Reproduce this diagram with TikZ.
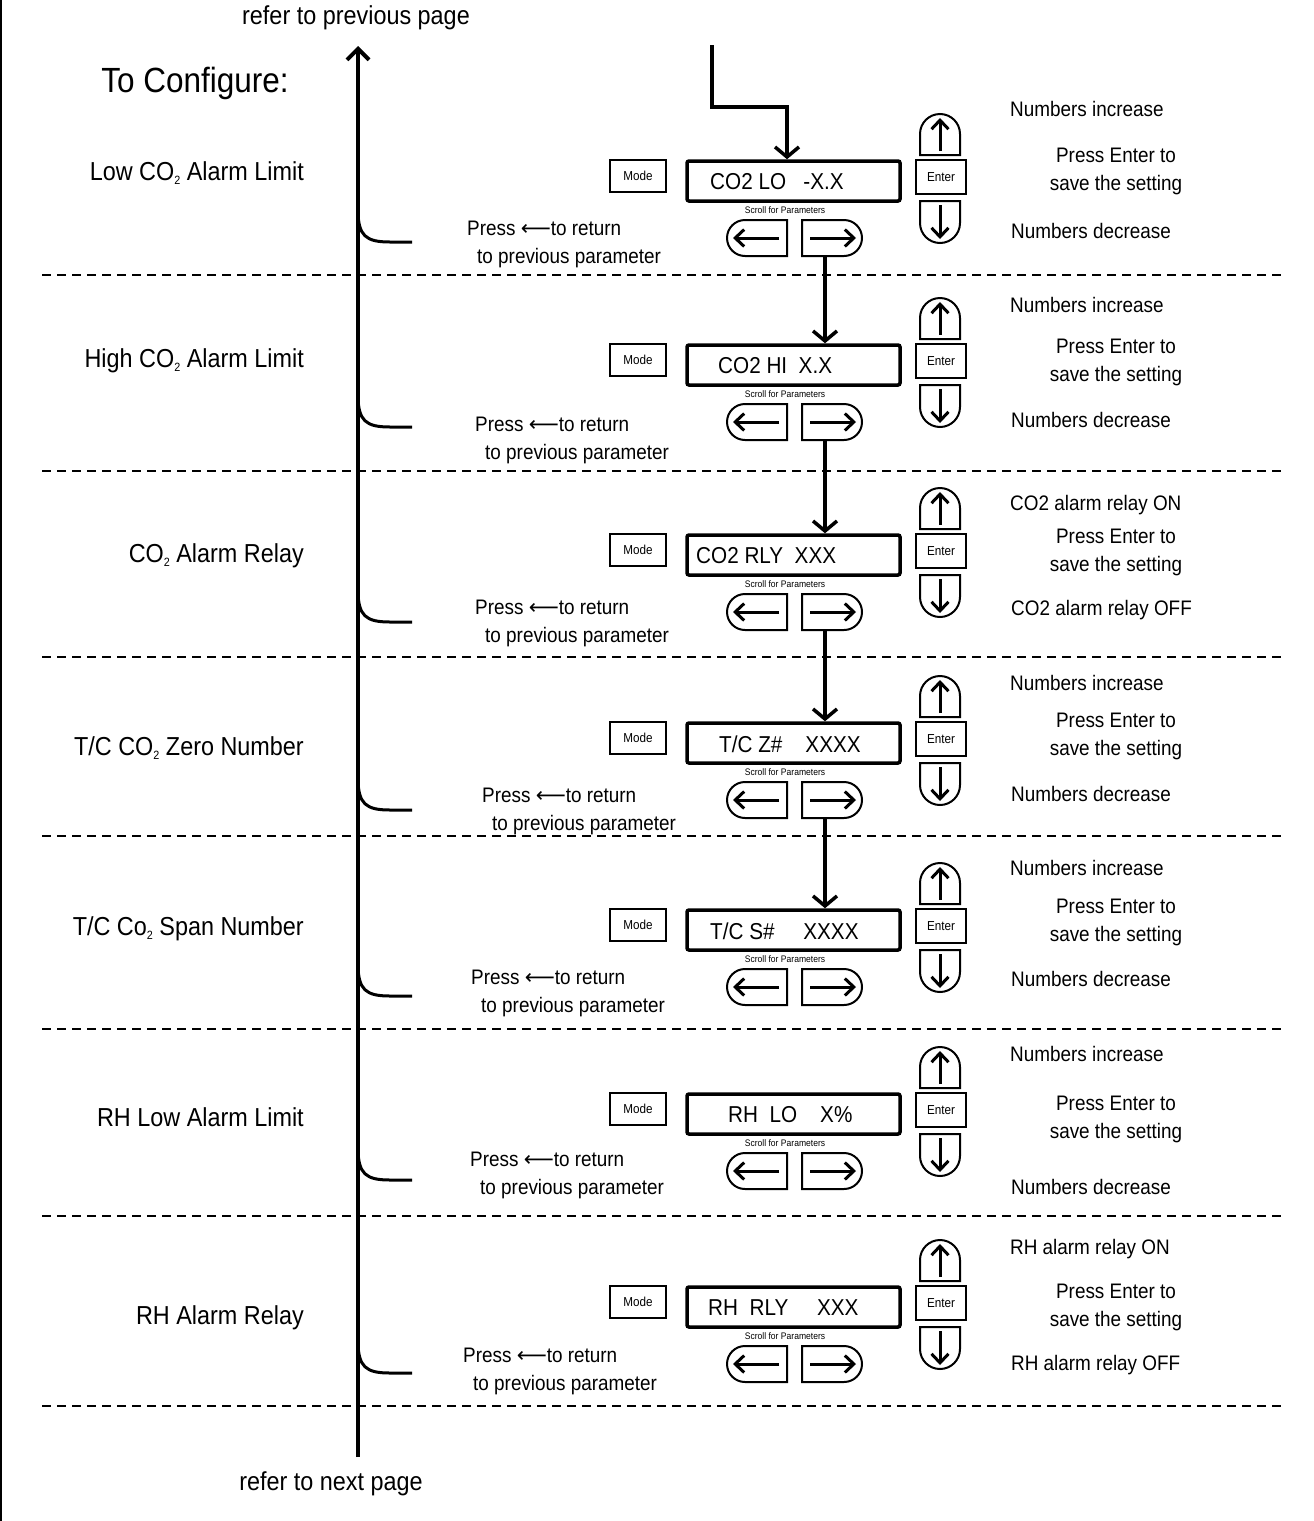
\documentclass[tikz,border=0pt]{standalone}
\usepackage{fontspec}
\setmainfont{Liberation Sans}[FakeStretch=0.9]
\newfontfamily\arrowfont{DejaVu Sans}
\usetikzlibrary{arrows.meta,shapes.misc}
\newcommand\lowtwo{\raisebox{-4pt}{\fontsize{12}{12}\selectfont 2}}

\tikzset{
  lbl/.style={anchor=east,inner sep=0pt,font=\fontsize{26}{30}\selectfont},
  note/.style={anchor=west,inner sep=0pt,font=\fontsize{21}{28}\selectfont},
  bigtxt/.style={inner sep=0pt,font=\fontsize{26}{30}\selectfont},
  modebox/.style={draw,line width=2.5pt,minimum width=56pt,minimum height=32pt,inner sep=0pt,font=\fontsize{13}{15}\selectfont},
  dispbox/.style={draw,line width=3.5pt,rounded corners=2pt,minimum width=213pt,minimum height=40pt},
  disptxt/.style={anchor=west,inner sep=0pt,font=\fontsize{23}{26}\selectfont},
  entbox/.style={draw,line width=2pt,minimum width=50pt,minimum height=34pt,inner sep=0pt,font=\fontsize{13}{15}\selectfont},
  scrolltxt/.style={inner sep=0pt,font=\fontsize{9.5}{11}\selectfont},
  lbtn/.style={draw,line width=2pt,rounded rectangle,rounded rectangle right arc=none,minimum width=60pt,minimum height=36pt,inner sep=0pt},
  rbtn/.style={draw,line width=2pt,rounded rectangle,rounded rectangle left arc=none,minimum width=60pt,minimum height=36pt,inner sep=0pt},
  btn/.style={line width=2pt},
  barr/.style={line width=3pt,-{Straight Barb[length=9pt,width=17pt]}},
  flow/.style={line width=3.5pt,-{Straight Barb[length=10pt,width=24pt]}},
  mainarr/.style={line width=4pt,-{Straight Barb[length=11pt,width=22pt]}},
  curv/.style={line width=3pt},
  sep/.style={line width=1.5pt,dash pattern=on 9pt off 6pt}
}

\begin{document}
\begin{tikzpicture}[x=1pt,y=-1pt]
\useasboundingbox (0,0) rectangle (1314,1521);
\draw[line width=2pt] (1,0) -- (1,1521);

\node[bigtxt] (prev) at (356,18) {refer to previous page};
\node[bigtxt] (next) at (331,1484) {refer to next page};
\node[inner sep=0pt,font=\fontsize{35}{40}\selectfont] (cfg) at (195,83) {To Configure:};

\coordinate (top) at (358,46);
\coordinate (bot) at (358,1457);
\draw[mainarr] (bot) -- (top);

% one block per parameter
\foreach \i/\d/\ly/\lab/\dx/\dtxt/\ta/\tay/\pey/\tb/\tby/\px/\py/\cy/\sy in {
  1/161/173/{Low CO\lowtwo{} Alarm Limit}/710/{CO2 LO\ \ \ -X.X}/{Numbers increase}/109/171/{Numbers decrease}/231/467/244/242/275,
  2/345/361/{High CO\lowtwo{} Alarm Limit}/718/{CO2 HI\ \ X.X}/{Numbers increase}/305/362/{Numbers decrease}/420/475/440/427/471,
  3/535/556/{CO\lowtwo{} Alarm Relay}/696/{CO2 RLY\ \ XXX}/{CO2 alarm relay ON}/505/552/{CO2 alarm relay OFF}/610/475/623/622/657,
  4/723/748/{T/C CO\lowtwo{} Zero Number}/719/{T/C Z\#\ \ \ \ XXXX}/{Numbers increase}/683/736/{Numbers decrease}/794/482/811/810/836,
  5/910/929/{T/C Co\lowtwo{} Span Number}/710/{T/C S\#\ \ \ \ \ XXXX}/{Numbers increase}/868/922/{Numbers decrease}/979/471/993/996/1029,
  6/1094/1117/{RH Low Alarm Limit}/728/{RH\ \ LO\ \ \ \ X\%}/{Numbers increase}/1054/1119/{Numbers decrease}/1187/470/1175/1180/1216,
  7/1287/1318/{RH Alarm Relay}/708/{RH\ \ RLY\ \ \ \ \ XXX}/{RH alarm relay ON}/1249/1307/{RH alarm relay OFF}/1365/463/1371/1373/1406}
{
  \node[lbl] (lab\i) at (304,\ly) {\lab};
  \node[modebox] (mode\i) at (638,\d+15) {Mode};
  \node[dispbox] (disp\i) at (793.5,\d+20) {};
  \node[disptxt] (dt\i) at (\dx,\d+21) {\dtxt};
  \node[entbox] (ent\i) at (941,\d+16) {Enter};
  \node[scrolltxt] (scr\i) at (785,\d+49) {Scroll for Parameters};
  \node[lbtn] (lb\i) at (757,\d+77) {};
  \node[rbtn] (rb\i) at (832,\d+77) {};
  \draw[barr] ([xshift=22pt]lb\i.center) -- ([xshift=-24pt]lb\i.center);
  \draw[barr] ([xshift=-22pt]rb\i.center) -- ([xshift=24pt]rb\i.center);
  \draw[btn] (920,\d-6) -- (920,\d-27) arc[start angle=180,end angle=360,radius=20] -- (960,\d-6) -- cycle;
  \draw[btn] (920,\d+40) -- (920,\d+62) arc[start angle=180,end angle=0,radius=20] -- (960,\d+40) -- cycle;
  \draw[barr] (940,\d-10) -- (940,\d-43);
  \draw[barr] (940,\d+44) -- (940,\d+78);
  \node[note] (up\i) at (1010,\tay) {\ta};
  \node[note,anchor=center,align=center] (sv\i) at (1116,\pey) {Press Enter to\\save the setting};
  \node[note] (dn\i) at (1011,\tby) {\tb};
  \node[note,align=left] (pr\i) at (\px,\py) {Press {\arrowfont ⟵}to return\\\hspace{10pt}to previous parameter};
  \draw[curv] (358,\cy-32) .. controls (358,\cy-6) and (366,\cy) .. (390,\cy) -- (412,\cy);
  \draw[sep] (42,\sy) -- (1284,\sy);
}

\coordinate (in) at (712,45);
\draw[flow] (in) -- ++(0,62) -| ([xshift=-6.5pt]disp1.north);
\foreach \i/\j in {1/2,2/3,3/4,4/5}
  \draw[flow] ([xshift=-7pt]rb\i.south) -- ([xshift=-7pt]rb\i.south |- disp\j.north);
\end{tikzpicture}
\end{document}
